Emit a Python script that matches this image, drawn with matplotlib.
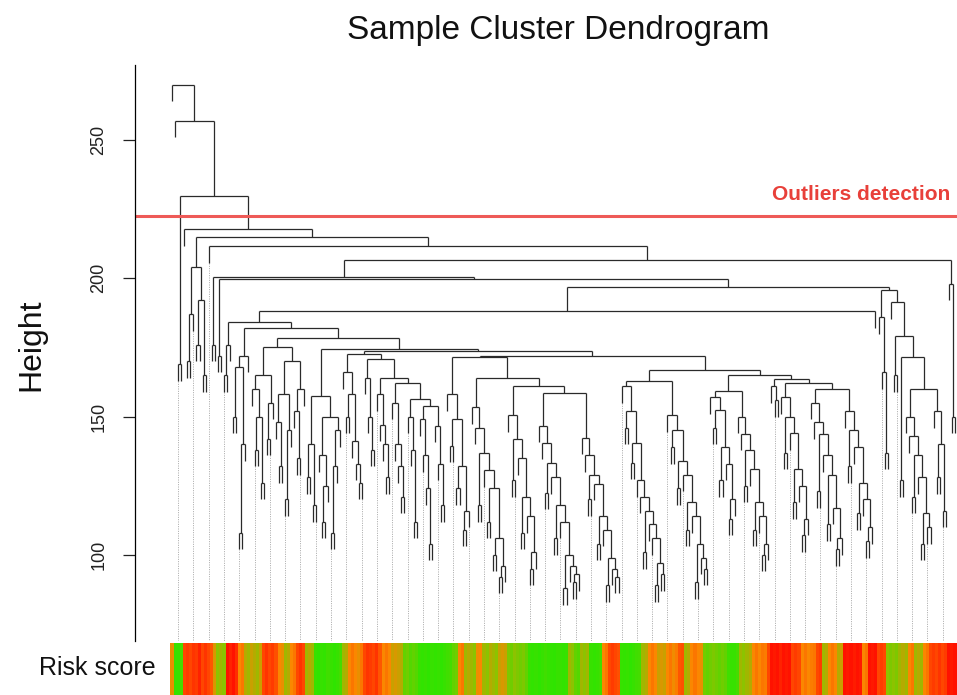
import numpy as np
import matplotlib
matplotlib.use("Agg")
import matplotlib.pyplot as plt
from matplotlib.collections import LineCollection
from matplotlib.colors import LinearSegmentedColormap

plt.rcParams['font.family'] = ['Liberation Sans', 'DejaVu Sans']

# merge height between each pair of neighbouring leaves (leaf order left -> right)
left_gaps = [270, 257, 169, 229.7, 217.7, 170, 187, 204, 176, 192, 165, 215,
             211.6, 176, 200.5, 172, 199.8]
body_a_gaps = [165, 176, 184.2,
               150, 168, 108, 140, 172, 182,
               160, 138, 150, 126, 165, 142, 155, 175, 148, 132, 158, 120, 145, 170, 152, 135, 160, 178.3,
               128, 140, 118, 157.6, 136, 112, 125, 150, 108, 132, 145, 174.6]
body_b_gaps = [166, 150, 158, 141, 133, 126, 172.8,
               164, 150, 138, 171,
               158, 147, 140, 128, 164,
               155, 140, 132, 121, 162,
               150, 138, 112, 156.5,
               149, 136, 124, 104, 154,
               146.7, 133, 118, 173.6]
body_c_gaps = [158, 139.5, 149, 124, 132, 109, 116, 171.5,
               153.3, 146, 118, 137, 130.5, 112, 124, 100, 106, 92, 96, 164,
               150.4, 127, 142, 135, 108, 121, 114, 95, 101, 161.2,
               146.7, 140.6, 122.5, 133.3, 128, 106, 118, 112, 88, 100, 96, 90, 93, 158.5,
               142.4, 136, 120, 129, 125.7, 104, 114, 109, 89, 99, 95, 92, 172]
body_d_gaps = [161, 146, 152, 133.3, 140.6, 127, 121, 101, 116, 111, 106, 89, 97, 93, 163,
               150.4, 139, 145, 124, 134, 129, 109, 119, 114, 90, 104, 99, 95, 166.7]
body_e_gaps = [157, 146, 152.2, 127, 139, 133, 113, 120, 159.4,
               150, 143.8, 125, 138, 131, 109, 119, 114, 100, 104, 165]
body_f_gaps = [161, 156, 163.5,
               157, 137, 150, 144, 119, 131, 125, 107, 113, 162,
               155, 148, 123, 143.8, 136, 111, 129, 117, 102, 106, 160,
               152, 132, 145, 139, 115, 126, 120, 105, 110, 188.2]
right_gaps = [196.9,
              186, 166, 137, 195.7, 191.4, 165, 179, 127, 171.5,
              150, 143, 121, 136, 128, 104, 115, 110, 160, 152, 128, 140, 116, 206.5,
              198, 150]

risk_score = [0.6, 0.05, 0.05, 0.1, 0.85, 0.88, 0.85, 0.9, 0.88, 0.95,
              0.85, 0.9, 0.85, 0.8, 0.55, 0.35, 0.4, 0.35, 1.0, 0.95,
              1.0, 0.92, 0.65, 0.7, 0.45, 0.4, 0.5, 0.45, 0.4, 0.5,
              0.85, 0.9, 0.85, 0.88, 0.82, 0.65, 0.6, 0.4, 0.45, 0.65,
              0.7, 0.85, 0.9, 0.85, 0.4, 0.45, 0.4, 0.05, 0.02, 0.05,
              0.03, 0.08, 0.05, 0.02, 0.05, 0.1, 0.4, 0.45, 0.65, 0.7,
              0.65, 0.6, 0.7, 0.85, 0.9, 0.88, 0.85, 0.9, 0.8, 0.65,
              0.7, 0.65, 0.5, 0.55, 0.5, 0.45, 0.2, 0.25, 0.15, 0.2,
              0.15, 0.05, 0.03, 0.05, 0.02, 0.05, 0.03, 0.05, 0.02, 0.05,
              0.08, 0.1, 0.2, 0.25, 0.65, 0.7, 0.4, 0.45, 0.4, 0.35,
              0.62, 0.65, 0.4, 0.35, 0.45, 0.4, 0.35, 0.5, 0.55, 0.5,
              0.3, 0.25, 0.35, 0.3, 0.25, 0.3, 0.2, 0.05, 0.03, 0.05,
              0.02, 0.05, 0.08, 0.05, 0.03, 0.02, 0.05, 0.05, 0.03, 0.05,
              0.4, 0.35, 0.2, 0.15, 0.4, 0.35, 0.4, 0.05, 0.03, 0.05,
              0.08, 0.65, 0.7, 0.85, 0.88, 0.85, 0.82, 0.05, 0.03, 0.05,
              0.02, 0.05, 0.08, 0.1, 0.4, 0.45, 0.65, 0.7, 0.65, 0.5,
              0.55, 0.5, 0.65, 0.7, 0.62, 0.68, 0.8, 0.82, 0.4, 0.45,
              0.65, 0.7, 0.65, 0.6, 0.25, 0.2, 0.25, 0.3, 0.25, 0.2,
              0.25, 0.2, 0.08, 0.05, 0.05, 0.1, 0.4, 0.35, 0.4, 0.45,
              0.65, 0.7, 0.65, 0.7, 0.68, 0.85, 1.0, 0.98, 1.0, 0.95,
              1.0, 0.98, 1.0, 0.85, 0.88, 0.85, 0.65, 0.7, 0.65, 0.68,
              0.7, 0.85, 0.88, 0.4, 0.45, 0.65, 0.7, 0.65, 0.45, 0.5,
              1.0, 0.98, 1.0, 0.97, 1.0, 0.98, 0.65, 0.7, 1.0, 0.98,
              1.0, 0.85, 0.88, 0.85, 0.35, 0.3, 0.35, 0.3, 0.4, 0.45,
              0.4, 0.65, 0.7, 0.4, 0.45, 0.4, 0.65, 0.7, 0.85, 0.88,
              0.85, 0.9, 0.85, 0.88, 1.0, 0.98, 1.0]

outlier_cut = 222.5
y_ticks = [100, 150, 200, 250]
hang = 6

gaps = np.array(left_gaps + body_a_gaps + body_b_gaps + body_c_gaps +
                body_d_gaps + body_e_gaps + body_f_gaps + right_gaps, dtype=float)
n_leaves = len(gaps) + 1

segs = []
leaf_bottom = {}


def build(lo, hi):
    # split at the highest neighbour gap -> hclust-like tree, x = midpoint of children
    if lo == hi:
        return float(lo), None
    k = lo + int(np.argmax(gaps[lo:hi]))
    h = gaps[k]
    xl, hl = build(lo, k)
    xr, hr = build(k + 1, hi)
    segs.append([(xl, h), (xr, h)])
    for x, hc in ((xl, hl), (xr, hr)):
        if hc is None:
            hc = h - hang
            leaf_bottom[int(x)] = hc
        segs.append([(x, h), (x, hc)])
    return (xl + xr) / 2, h


build(0, n_leaves - 1)

W, H = 957, 695
fig = plt.figure(figsize=(W / 100, H / 100), dpi=100)

step = (955 - 172) / (n_leaves - 1)
xlim = (-(172 - 135) / step, (957 - 172) / step)
ylim = (68.8, 277.2)

ax = fig.add_axes([135 / W, (H - 641) / H, 822 / W, 576 / H])
ax.set_xlim(*xlim)
ax.set_ylim(*ylim)

guides = [[(i, leaf_bottom[i]), (i, ylim[0])] for i in range(2, n_leaves, 5)]
ax.add_collection(LineCollection(guides, colors='#9a9a9a', linewidths=0.6,
                                 linestyles=(0, (1.2, 1.6))))
ax.add_collection(LineCollection(segs, colors='#2a2a2a', linewidths=0.9))

ax.axhline(outlier_cut, color='#ee5a57', lw=2.2)
ax.text(0.992, outlier_cut + 4.5, 'Outliers detection', transform=ax.get_yaxis_transform(),
        color='#e8403a', fontsize=15, fontweight='bold', ha='right', va='bottom')

for s in ('top', 'right', 'bottom'):
    ax.spines[s].set_visible(False)
ax.spines['left'].set_linewidth(0.9)
ax.set_xticks([])
ax.set_yticks(y_ticks)
ax.set_yticklabels([str(t) for t in y_ticks], rotation=90, va='center')
ax.tick_params(axis='y', length=9, width=0.9, pad=11, labelsize=13, colors='#222222')

fig.text(31 / W, 1 - 345 / H, 'Height', rotation=90, fontsize=23,
         ha='center', va='center', color='#111111')
fig.text(558 / W, 1 - 30 / H, 'Sample Cluster Dendrogram', fontsize=24,
         ha='center', va='center', color='#111111')

risk_cmap = LinearSegmentedColormap.from_list(
    'risk', [(0, '#2ae600'), (0.35, '#8cc300'), (0.5, '#c8a000'),
             (0.65, '#fa8700'), (0.85, '#ff4600'), (1, '#ff1200')])
cax = fig.add_axes([135 / W, 0, 822 / W, 52 / H])
cax.set_xlim(*xlim)
cax.pcolormesh(np.arange(n_leaves + 1) - 0.5, [0, 1], np.array(risk_score)[None, :],
               cmap=risk_cmap, vmin=0, vmax=1, shading='flat')
cax.set_ylim(0, 1)
cax.axis('off')
fig.text(97 / W, 1 - 668 / H, 'Risk score', fontsize=18, ha='center', va='center',
         color='#111111')

fig.savefig('out.png', dpi=100)
